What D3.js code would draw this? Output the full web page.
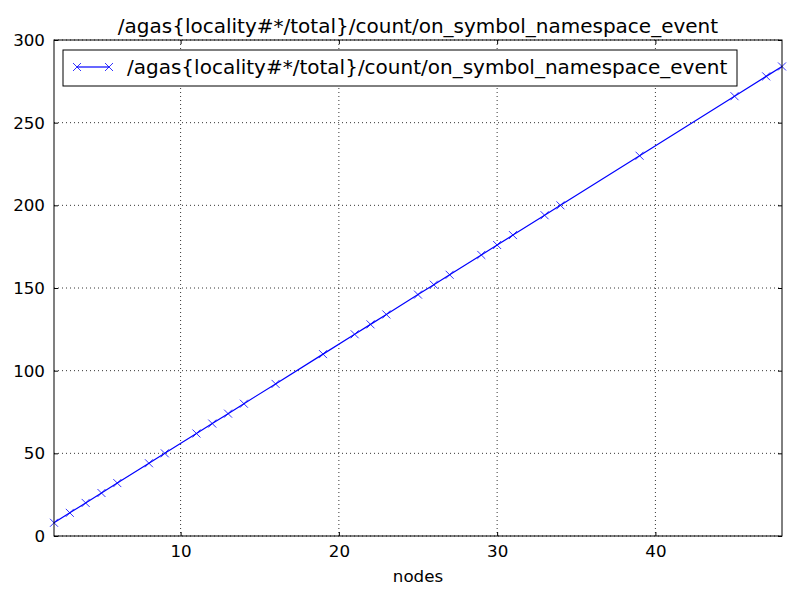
<!DOCTYPE html>
<html>
<head>
<meta charset="utf-8">
<script src="https://cdn.jsdelivr.net/npm/d3@7"></script>
<style>
  body { margin: 0; background: #fff; }
  text { font-family: "DejaVu Sans", sans-serif; }
</style>
</head>
<body>
<div class="chart"></div>
<script>
var title = "/agas{locality#*/total}/count/on_symbol_namespace_event";
var seriesName = "/agas{locality#*/total}/count/on_symbol_namespace_event";
var nodes = [2, 3, 4, 5, 6, 8, 9, 11, 12, 13, 14, 16, 19, 21, 22, 23, 25, 26, 27, 29, 30, 31, 33, 34, 39, 45, 47, 48];
var counts = [8, 14, 20, 26, 32, 44, 50, 62, 68, 74, 80, 92, 110, 122, 128, 134, 146, 152, 158, 170, 176, 182, 194, 200, 230, 266, 278, 284];
var xTicks = [10, 20, 30, 40];
var yTicks = [0, 50, 100, 150, 200, 250, 300];

var width = 800, height = 600;
var margin = {top: 40, right: 18, bottom: 64, left: 54};
var w = width - margin.left - margin.right;
var h = height - margin.top - margin.bottom;

var svg = d3.select(".chart").append("svg")
  .attr("width", width)
  .attr("height", height);

var g = svg.append("g")
  .attr("transform", "translate(" + margin.left + "," + margin.top + ")");

var x = d3.scaleLinear().domain([2, 48]).range([0, w]);
var y = d3.scaleLinear().domain([0, 300]).range([h, 0]);

// grid
g.selectAll(".gx").data(xTicks).enter().append("line")
  .attr("x1", function(d){ return x(d); }).attr("x2", function(d){ return x(d); })
  .attr("y1", 0).attr("y2", h)
  .style("stroke", "#000").style("stroke-width", 0.8).style("stroke-dasharray", "1,3");
g.selectAll(".gy").data(yTicks).enter().append("line")
  .attr("y1", function(d){ return y(d); }).attr("y2", function(d){ return y(d); })
  .attr("x1", 0).attr("x2", w)
  .style("stroke", "#000").style("stroke-width", 0.8).style("stroke-dasharray", "1,3");

// line + markers
var line = d3.line()
  .x(function(d, i){ return x(nodes[i]); })
  .y(function(d){ return y(d); });

g.append("path")
  .datum(counts)
  .attr("d", line)
  .style("fill", "none").style("stroke", "#0000ff").style("stroke-width", 1.2);

var cross = "M-4,-4L4,4M-4,4L4,-4";
g.selectAll(".pt").data(counts).enter().append("path")
  .attr("transform", function(d, i){ return "translate(" + x(nodes[i]) + "," + y(d) + ")"; })
  .attr("d", cross)
  .style("stroke", "#0000ff").style("stroke-width", 0.8).style("fill", "none");

// axes (ticks inside, all sides)
var xB = d3.axisBottom(x).tickValues(xTicks).tickSizeInner(-4).tickSizeOuter(0).tickPadding(9);
var xT = d3.axisTop(x).tickValues(xTicks).tickSizeInner(-4).tickSizeOuter(0).tickFormat("");
var yL = d3.axisLeft(y).tickValues(yTicks).tickSizeInner(-4).tickSizeOuter(0).tickPadding(9);
var yR = d3.axisRight(y).tickValues(yTicks).tickSizeInner(-4).tickSizeOuter(0).tickFormat("");

[
  g.append("g").attr("transform", "translate(0," + h + ")").call(xB),
  g.append("g").call(xT),
  g.append("g").call(yL),
  g.append("g").attr("transform", "translate(" + w + ",0)").call(yR)
].forEach(function(a){
  a.select(".domain").remove();
  a.selectAll("line").style("stroke", "#000");
  a.selectAll("text").style("font-family", "DejaVu Sans, sans-serif").style("font-size", "16.7px").style("fill", "#000");
});

g.append("rect")
  .attr("width", w).attr("height", h)
  .style("fill", "none").style("stroke", "#000").style("stroke-width", 1);

// title, label
svg.append("text")
  .attr("x", margin.left + w / 2).attr("y", 33)
  .attr("text-anchor", "middle")
  .style("font-size", "20px")
  .text(title);

svg.append("text")
  .attr("x", margin.left + w / 2).attr("y", 582)
  .attr("text-anchor", "middle")
  .style("font-size", "16.7px")
  .text("nodes");

// legend
var leg = svg.append("g").attr("transform", "translate(63,50)");
leg.append("rect")
  .attr("width", 674).attr("height", 36)
  .style("fill", "#fff").style("stroke", "#000").style("stroke-width", 1);
leg.append("line")
  .attr("x1", 14).attr("x2", 46).attr("y1", 17).attr("y2", 17)
  .style("stroke", "#0000ff").style("stroke-width", 1.2);
[14, 46].forEach(function(px){
  leg.append("path")
    .attr("transform", "translate(" + px + ",17)")
    .attr("d", cross)
    .style("stroke", "#0000ff").style("stroke-width", 0.8);
});
leg.append("text")
  .attr("x", 64).attr("y", 24)
  .style("font-size", "20px")
  .text(seriesName);
</script>
</body>
</html>
